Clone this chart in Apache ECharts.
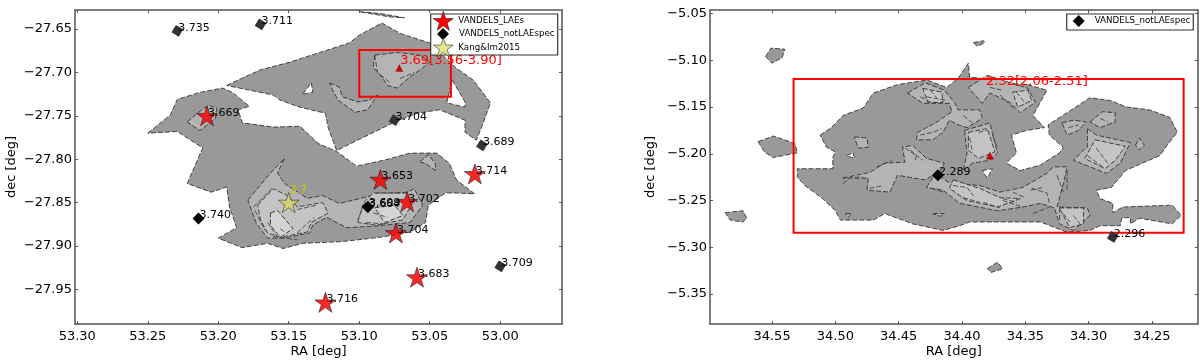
<!DOCTYPE html>
<html><head><meta charset="utf-8">
<style>html,body{margin:0;padding:0;background:#fff}#c{width:1200px;height:360px}</style>
<script src="https://cdn.jsdelivr.net/npm/echarts@6/dist/echarts.min.js"></script>
</head><body><div id="c"></div>
<script>
// ---- tick labels
const leftRaTicks=[53.30,53.25,53.20,53.15,53.10,53.05,53.00];
const leftDecTicks=[-27.65,-27.70,-27.75,-27.80,-27.85,-27.90,-27.95];
const rightRaTicks=[34.55,34.50,34.45,34.40,34.35,34.30,34.25];
const rightDecTicks=[-5.05,-5.10,-5.15,-5.20,-5.25,-5.30,-5.35];
// ---- left panel catalogues [RA, dec, z]
const leftLAEs=[[53.208,-27.750,'3.669'],[53.085,-27.8235,'3.653'],[53.018,-27.817,'3.714'],[53.066,-27.849,'3.702'],[53.074,-27.885,'3.704'],[53.059,-27.936,'3.683'],[53.124,-27.965,'3.716']];
const leftNotLAEsolid=[[53.214,-27.8685,'3.740'],[53.094,-27.855,'3.664'],[53.0938,-27.8547,'3.699']];
const leftNotLAEfaint=[[53.229,-27.652,'3.735'],[53.170,-27.6446,'3.711'],[53.075,-27.755,'3.704'],[53.013,-27.784,'3.689'],[53.000,-27.9235,'3.709']];
const leftKang=[[53.150,-27.850,'3.7']];
const leftPeak=[[53.0716,-27.695]];
const leftPeakLabel=[[53.071,-27.686,'3.69[3.56-3.90]']];
const leftBox=[[[53.100,-27.674],[53.035,-27.674],[53.035,-27.728],[53.100,-27.728]]];
// ---- right panel catalogues
const rightNotLAEsolid=[[34.419,-5.223,'2.289']];
const rightNotLAEfaint=[[34.281,-5.289,'2.296']];
const rightPeak=[[34.378,-5.202]];
const rightPeakLabel=[[34.381,-5.123,'2.32[2.06-2.51]']];
const rightBox=[[[34.533,-5.120],[34.225,-5.120],[34.225,-5.2845],[34.533,-5.2845]]];
// ---- left panel density contours, RA/dec rings
const leftLevel1=[
[[53.194,-27.715],[53.181,-27.705],[53.170,-27.697],[53.149,-27.688],[53.128,-27.677],[53.107,-27.666],[53.100,-27.657],[53.084,-27.643],[53.071,-27.655],[53.050,-27.666],[53.041,-27.680],[53.032,-27.694],[53.019,-27.709],[53.007,-27.735],[53.012,-27.758],[53.017,-27.778],[53.025,-27.769],[53.025,-27.755],[53.043,-27.743],[53.059,-27.747],[53.076,-27.758],[53.116,-27.790],[53.122,-27.764],[53.124,-27.747],[53.142,-27.740],[53.156,-27.732],[53.161,-27.726],[53.185,-27.718]],
[[53.100,-27.630],[53.085,-27.632],[53.068,-27.637],[53.078,-27.636]],
[[53.250,-27.770],[53.234,-27.749],[53.229,-27.731],[53.213,-27.723],[53.197,-27.718],[53.190,-27.723],[53.178,-27.739],[53.186,-27.743],[53.183,-27.758],[53.161,-27.763],[53.142,-27.762],[53.129,-27.782],[53.116,-27.791],[53.102,-27.808],[53.082,-27.801],[53.064,-27.793],[53.045,-27.793],[53.036,-27.805],[53.031,-27.824],[53.018,-27.840],[53.031,-27.839],[53.039,-27.839],[53.051,-27.853],[53.053,-27.873],[53.064,-27.884],[53.085,-27.890],[53.112,-27.895],[53.140,-27.897],[53.154,-27.903],[53.165,-27.897],[53.183,-27.902],[53.200,-27.891],[53.187,-27.879],[53.192,-27.855],[53.194,-27.832],[53.205,-27.838],[53.222,-27.828],[53.218,-27.813],[53.211,-27.787],[53.229,-27.768]]
];
const leftHoles=[
[[53.140,-27.725],[53.134,-27.712],[53.133,-27.723]],
[[53.034,-27.709],[53.025,-27.734],[53.025,-27.740],[53.038,-27.735]]
];
const leftLevel2=[
[[53.222,-27.757],[53.214,-27.746],[53.207,-27.738],[53.201,-27.741],[53.202,-27.753],[53.213,-27.767]],
[[53.089,-27.680],[53.073,-27.677],[53.057,-27.680],[53.050,-27.688],[53.055,-27.695],[53.064,-27.705],[53.073,-27.718],[53.080,-27.715],[53.085,-27.703],[53.090,-27.694]],
[[53.121,-27.712],[53.114,-27.717],[53.112,-27.728],[53.101,-27.734],[53.093,-27.732],[53.087,-27.726],[53.094,-27.743],[53.103,-27.746],[53.115,-27.732],[53.119,-27.720]],
[[53.057,-27.803],[53.051,-27.795],[53.046,-27.805],[53.046,-27.813],[53.053,-27.805]],
[[53.179,-27.847],[53.163,-27.816],[53.153,-27.799],[53.158,-27.816],[53.153,-27.828],[53.137,-27.845],[53.126,-27.842],[53.114,-27.851],[53.091,-27.842],[53.066,-27.838],[53.061,-27.834],[53.055,-27.853],[53.064,-27.873],[53.088,-27.877],[53.109,-27.879],[53.123,-27.867],[53.133,-27.876],[53.135,-27.885],[53.154,-27.891],[53.165,-27.891],[53.173,-27.874]]
];
const leftLevel3=[
[[53.172,-27.853],[53.161,-27.834],[53.151,-27.842],[53.144,-27.855],[53.126,-27.850],[53.122,-27.862],[53.134,-27.873],[53.137,-27.884],[53.156,-27.890],[53.165,-27.885],[53.170,-27.870]],
[[53.101,-27.873],[53.097,-27.850],[53.090,-27.839],[53.066,-27.839],[53.063,-27.853],[53.069,-27.870],[53.088,-27.876]]
];
const leftLevel4=[
[[53.163,-27.862],[53.158,-27.859],[53.147,-27.880],[53.156,-27.890],[53.163,-27.876]],
[[53.089,-27.856],[53.075,-27.853],[53.069,-27.865],[53.082,-27.873]]
];
const leftDashes=[
[[53.175,-27.855],[53.162,-27.834]],[[53.174,-27.859],[53.167,-27.882]],[[53.165,-27.873],[53.158,-27.890]],[[53.156,-27.880],[53.153,-27.884]],
[[53.161,-27.889],[53.144,-27.893]],[[53.144,-27.858],[53.130,-27.853]],[[53.144,-27.885],[53.132,-27.867]],[[53.101,-27.870],[53.096,-27.850]],
[[53.090,-27.862],[53.080,-27.867]],[[53.095,-27.873],[53.080,-27.875]],[[53.088,-27.839],[53.071,-27.839]],
[[53.089,-27.680],[53.087,-27.700],[53.078,-27.712]],[[53.071,-27.707],[53.061,-27.700]]
];
// ---- right panel density contours
const rightLevel1=[
[[34.512,-5.180],[34.503,-5.172],[34.494,-5.159],[34.478,-5.151],[34.470,-5.135],[34.451,-5.126],[34.428,-5.121],[34.412,-5.129],[34.403,-5.119],[34.395,-5.103],[34.394,-5.118],[34.386,-5.119],[34.372,-5.124],[34.348,-5.126],[34.333,-5.132],[34.344,-5.159],[34.335,-5.172],[34.349,-5.175],[34.361,-5.180],[34.357,-5.199],[34.365,-5.210],[34.354,-5.218],[34.338,-5.212],[34.323,-5.199],[34.320,-5.193],[34.331,-5.180],[34.332,-5.169],[34.317,-5.156],[34.299,-5.140],[34.283,-5.143],[34.270,-5.150],[34.252,-5.153],[34.236,-5.161],[34.230,-5.177],[34.237,-5.189],[34.244,-5.202],[34.271,-5.218],[34.282,-5.236],[34.294,-5.239],[34.291,-5.248],[34.281,-5.253],[34.281,-5.263],[34.273,-5.257],[34.234,-5.255],[34.227,-5.266],[34.234,-5.275],[34.260,-5.269],[34.267,-5.275],[34.267,-5.268],[34.274,-5.269],[34.275,-5.277],[34.291,-5.277],[34.299,-5.282],[34.317,-5.284],[34.338,-5.273],[34.368,-5.273],[34.394,-5.273],[34.402,-5.277],[34.415,-5.282],[34.439,-5.275],[34.461,-5.264],[34.470,-5.271],[34.496,-5.271],[34.500,-5.261],[34.510,-5.248],[34.524,-5.234],[34.530,-5.225],[34.530,-5.216],[34.514,-5.216],[34.502,-5.216],[34.502,-5.204],[34.500,-5.198],[34.507,-5.193]],
[[34.555,-5.096],[34.551,-5.087],[34.540,-5.088],[34.542,-5.097],[34.550,-5.103]],
[[34.561,-5.187],[34.549,-5.181],[34.532,-5.189],[34.530,-5.199],[34.549,-5.204],[34.556,-5.198]],
[[34.587,-5.263],[34.573,-5.261],[34.570,-5.269],[34.573,-5.273],[34.583,-5.271]],
[[34.380,-5.323],[34.372,-5.316],[34.368,-5.323],[34.377,-5.327]],
[[34.391,-5.081],[34.383,-5.079],[34.382,-5.081],[34.388,-5.085]]
];
const rightHoles=[
[[34.491,-5.202],[34.486,-5.199],[34.485,-5.205]],
[[34.384,-5.218],[34.376,-5.216],[34.380,-5.226]]
];
const rightLevel2=[
[[34.443,-5.135],[34.429,-5.124],[34.414,-5.132],[34.406,-5.145],[34.403,-5.153],[34.386,-5.153],[34.384,-5.162],[34.396,-5.172],[34.403,-5.169],[34.410,-5.164],[34.415,-5.177],[34.423,-5.185],[34.436,-5.185],[34.435,-5.177],[34.421,-5.167],[34.408,-5.155],[34.410,-5.146],[34.431,-5.146]],
[[34.398,-5.175],[34.378,-5.167],[34.372,-5.199],[34.378,-5.207],[34.392,-5.210],[34.399,-5.218],[34.396,-5.199]],
[[34.428,-5.236],[34.421,-5.221],[34.410,-5.231],[34.386,-5.234],[34.370,-5.241],[34.352,-5.236],[34.333,-5.221],[34.328,-5.214],[34.317,-5.214],[34.320,-5.232],[34.325,-5.257],[34.301,-5.258],[34.299,-5.266],[34.312,-5.282],[34.323,-5.275],[34.327,-5.258],[34.338,-5.253],[34.352,-5.257],[34.372,-5.261],[34.402,-5.253],[34.415,-5.239]],
[[34.494,-5.226],[34.473,-5.220],[34.461,-5.210],[34.445,-5.209],[34.447,-5.193],[34.439,-5.191],[34.428,-5.205],[34.414,-5.210],[34.417,-5.218],[34.429,-5.228],[34.451,-5.223],[34.457,-5.241],[34.475,-5.239],[34.474,-5.226]],
[[34.395,-5.129],[34.380,-5.116],[34.348,-5.130],[34.342,-5.145],[34.354,-5.156],[34.362,-5.145],[34.378,-5.135],[34.384,-5.146]],
[[34.321,-5.167],[34.312,-5.164],[34.302,-5.166],[34.308,-5.175],[34.317,-5.180]],
[[34.299,-5.166],[34.289,-5.155],[34.279,-5.156],[34.279,-5.166],[34.291,-5.172]],
[[34.301,-5.173],[34.294,-5.180],[34.267,-5.188],[34.275,-5.210],[34.286,-5.221],[34.312,-5.207],[34.304,-5.196],[34.301,-5.193]],
[[34.263,-5.191],[34.260,-5.183],[34.256,-5.191],[34.260,-5.196]],
[[34.485,-5.182],[34.475,-5.183],[34.474,-5.193],[34.482,-5.194]],
[[34.492,-5.264],[34.487,-5.264],[34.490,-5.268]],
[[34.423,-5.264],[34.414,-5.264],[34.417,-5.267]]
];
const rightLevel3=[
[[34.395,-5.177],[34.380,-5.173],[34.374,-5.198],[34.387,-5.205],[34.395,-5.196]],
[[34.407,-5.228],[34.386,-5.237],[34.370,-5.247],[34.354,-5.248],[34.372,-5.257],[34.396,-5.250],[34.410,-5.237]],
[[34.323,-5.258],[34.304,-5.258],[34.304,-5.275],[34.315,-5.279]],
[[34.295,-5.185],[34.271,-5.192],[34.279,-5.207],[34.287,-5.216],[34.303,-5.205]],
[[34.360,-5.134],[34.348,-5.132],[34.345,-5.143],[34.356,-5.150]],
[[34.431,-5.130],[34.416,-5.134],[34.415,-5.145],[34.427,-5.145]]
];
const rightDashes=[
[[34.433,-5.139],[34.424,-5.145],[34.415,-5.145]],[[34.425,-5.132],[34.420,-5.140]],[[34.399,-5.159],[34.392,-5.167]],
[[34.433,-5.180],[34.423,-5.177],[34.416,-5.173]],[[34.445,-5.194],[34.436,-5.202],[34.437,-5.207]],[[34.394,-5.183],[34.392,-5.196]],
[[34.387,-5.177],[34.380,-5.175]],[[34.376,-5.180],[34.372,-5.194]],[[34.424,-5.237],[34.415,-5.241]],
[[34.407,-5.234],[34.396,-5.236],[34.391,-5.245]],[[34.399,-5.247],[34.386,-5.252]],[[34.383,-5.252],[34.370,-5.258]],
[[34.368,-5.248],[34.357,-5.252]],[[34.360,-5.241],[34.350,-5.247]],[[34.345,-5.237],[34.333,-5.242],[34.331,-5.253]],
[[34.325,-5.223],[34.320,-5.241]],[[34.320,-5.264],[34.315,-5.273]],[[34.312,-5.266],[34.307,-5.275]],
[[34.294,-5.194],[34.285,-5.210]],[[34.301,-5.202],[34.289,-5.214]],[[34.291,-5.162],[34.285,-5.166]],[[34.316,-5.172],[34.308,-5.169]],
[[34.378,-5.129],[34.368,-5.132]],[[34.357,-5.134],[34.350,-5.146]],[[34.370,-5.137],[34.358,-5.153]],[[34.467,-5.214],[34.455,-5.207]],
[[34.441,-5.196],[34.431,-5.207]],[[34.494,-5.232],[34.488,-5.225],[34.478,-5.225]],[[34.473,-5.237],[34.462,-5.234]],[[34.428,-5.139],[34.412,-5.143]],
[[34.323,-5.258],[34.323,-5.271]],[[34.344,-5.264],[34.331,-5.257]],[[34.368,-5.250],[34.352,-5.257]],[[34.346,-5.239],[34.336,-5.236]],[[34.317,-5.218],[34.317,-5.239]]
];
const STAR='path://M50 0L61.23 34.55L97.55 34.55L68.16 55.9L79.39 90.45L50 69.1L20.61 90.45L31.84 55.9L2.45 34.55L38.77 34.55Z';
const FONT='"DejaVu Sans"';
const fmt=v=>(v<0?'\u2212':'')+Math.abs(v).toFixed(2);
const spine={show:true,onZero:false,lineStyle:{color:'#555',width:1.5}};
function xAx(g,pos,min,max,ticks,label,name){return {type:'value',gridIndex:g,position:pos,inverse:true,min,max,
  name:name||'',nameLocation:'middle',nameGap:21,nameMoveOverlap:false,nameTextStyle:{fontFamily:FONT,fontSize:13,color:'#000'},
  axisLine:spine,splitLine:{show:false},axisTick:{show:true,inside:true,length:3,customValues:ticks,lineStyle:{color:'#333',width:.8}},
  axisLabel:{show:label,customValues:ticks,formatter:fmt,margin:6,fontFamily:FONT,fontSize:13,color:'#000'}};}
function yAx(g,pos,min,max,ticks,label,name,gap){return {type:'value',gridIndex:g,position:pos,min,max,
  name:name||'',nameLocation:'middle',nameGap:gap||0,nameMoveOverlap:false,nameTextStyle:{fontFamily:FONT,fontSize:13,color:'#000'},
  axisLine:spine,splitLine:{show:false},axisTick:{show:true,inside:true,length:3,customValues:ticks,lineStyle:{color:'#333',width:.8}},
  axisLabel:{show:label,customValues:ticks,formatter:fmt,margin:3,fontFamily:FONT,fontSize:13,color:'#000'}};}
function rings(list,fill,g,z,stroke,dash){return {type:'custom',coordinateSystem:'cartesian2d',xAxisIndex:g*2,yAxisIndex:g*2,z,silent:true,clip:true,
  encode:{x:0,y:1},data:list.map(r=>r[0]),
  renderItem:(p,api)=>({type:'polygon',shape:{points:list[p.dataIndex].map(q=>api.coord(q))},
    style:{fill,stroke:stroke||'#333',lineWidth:stroke?2:.9,lineDash:dash===undefined?[5,2]:dash}})};}
function trails(list,g){return {type:'custom',coordinateSystem:'cartesian2d',xAxisIndex:g*2,yAxisIndex:g*2,z:2.5,silent:true,
  encode:{x:0,y:1},data:list.map(r=>r[0]),
  renderItem:(p,api)=>({type:'polyline',shape:{points:list[p.dataIndex].map(q=>api.coord(q))},
    style:{fill:'none',stroke:'#444',lineWidth:.9,lineDash:[5,2]}})};}
const txt=()=>({show:true,position:'inside',align:'left',verticalAlign:'middle',offset:[1,-3],formatter:p=>p.value[2],fontFamily:FONT,fontSize:11,color:'#000',opacity:1});
function pts(name,data,g,symbol,size,style,rot,z,lab){return {type:'scatter',name,data,xAxisIndex:g*2,yAxisIndex:g*2,symbol,symbolSize:size,symbolRotate:rot||0,itemStyle:Object.assign({opacity:1},style),z:z||5,label:lab||txt(),silent:true};}
function redLabel(data,g){return {type:'scatter',data,xAxisIndex:g*2,yAxisIndex:g*2,symbolSize:0,z:6,silent:true,itemStyle:{opacity:1},
  label:{show:true,position:'right',distance:0,formatter:p=>p.value[2],fontFamily:FONT,fontSize:13,color:'#f00'}};}
const series=[
 rings(leftLevel1,'#999999',0,1), rings(leftHoles,'#ffffff',0,1),
 rings(leftLevel2,'#b4b4b4',0,2), rings(leftLevel3,'#c4c4c4',0,2.1), rings(leftLevel4,'#d4d4d4',0,2.2),
 trails(leftDashes,0),
 rings(leftBox,'none',0,3,'#ff0000',null),
 rings(rightLevel1,'#999999',1,1), rings(rightHoles,'#ffffff',1,1),
 rings(rightLevel2,'#b4b4b4',1,2), rings(rightLevel3,'#c4c4c4',1,2.1),
 trails(rightDashes,1),
 rings(rightBox,'none',1,3,'#ff0000',null),
 pts('VANDELS_notLAEspec',leftNotLAEsolid,0,'diamond',12,{color:'#000'}),
 pts('VANDELS_notLAEspec',leftNotLAEfaint,0,'diamond',12,{color:'#333'},14),
 pts('VANDELS_LAEs',leftLAEs,0,STAR,[21,20],{color:'rgba(255,0,0,.85)',borderColor:'#222',borderWidth:.6}),
 pts('Kang&Im2015',leftKang,0,STAR,[21,20],{color:'rgba(214,214,90,.75)',borderColor:'#333',borderWidth:.6},0,5,
   {show:true,position:'inside',align:'left',verticalAlign:'middle',offset:[1,-12],formatter:p=>p.value[2],fontFamily:FONT,fontSize:11,color:'#c8c800'}),
 pts('peak',leftPeak,0,'triangle',7,{color:'#e00000',borderColor:'#300',borderWidth:.3},0,5,{show:false}),
 redLabel(leftPeakLabel,0),
 pts('VANDELS_notLAEspec',rightNotLAEsolid,1,'diamond',12,{color:'#000'}),
 pts('VANDELS_notLAEspec',rightNotLAEfaint,1,'diamond',12,{color:'#333'},14),
 pts('peak',rightPeak,1,'triangle',7,{color:'#e00000',borderColor:'#300',borderWidth:.3},0,5,{show:false}),
 redLabel(rightPeakLabel,1)
];
const lt={fontFamily:FONT,fontSize:8.7,color:'#000'};
const lg=(name,icon,left,top,w,h,pad,style)=>({data:[{name,icon,itemStyle:style}],left,top,orient:'horizontal',padding:0,itemWidth:w,itemHeight:h,selectedMode:false,z:10,
  textStyle:Object.assign({padding:[0,0,0,pad]},lt)});
const chart=echarts.init(document.getElementById('c'),null,{renderer:'canvas'});
chart.setOption({animation:false,backgroundColor:'#fff',
 grid:[{left:75,top:10,width:487,height:314,show:false,outerBoundsMode:'none'},{left:710,top:10,width:487.7,height:314,show:false,outerBoundsMode:'none'}],
 xAxis:[xAx(0,'bottom',52.9562,53.3016,leftRaTicks,true,'RA [deg]'),xAx(0,'top',52.9562,53.3016,leftRaTicks,false),
        xAx(1,'bottom',34.2139,34.599,rightRaTicks,true,'RA [deg]'),xAx(1,'top',34.2139,34.599,rightRaTicks,false)],
 yAxis:[yAx(0,'left',-27.990,-27.628,leftDecTicks,true,'dec [deg]',57),yAx(0,'right',-27.990,-27.628,leftDecTicks,false),
        yAx(1,'left',-5.3822,-5.0461,rightDecTicks,true,'dec [deg]',53),yAx(1,'right',-5.3822,-5.0461,rightDecTicks,false)],
 legend:[lg('VANDELS_LAEs',STAR,433,11,20,19,0,{color:'#ff0000',borderColor:'#222',borderWidth:.6,opacity:1}),
         lg('VANDELS_notLAEspec','diamond',437,28,12,12,5,{color:'#000',borderWidth:0,opacity:1}),
         lg('Kang&Im2015',STAR,433,37.5,20,19,0,{color:'#e4e48c',borderColor:'#333',borderWidth:.6,opacity:1}),
         lg('VANDELS_notLAEspec','diamond',1072.7,15,12,12,5,{color:'#000',borderWidth:0,opacity:1})],
 graphic:[
  {type:'rect',z:9,shape:{x:430.7,y:14,width:127,height:41},style:{fill:'#fff',stroke:'#333',lineWidth:1.2},silent:true},
  {type:'rect',z:9,shape:{x:1066.7,y:14,width:126.6,height:16},style:{fill:'#fff',stroke:'#333',lineWidth:1.2},silent:true}
 ],
 series});
</script></body></html>
